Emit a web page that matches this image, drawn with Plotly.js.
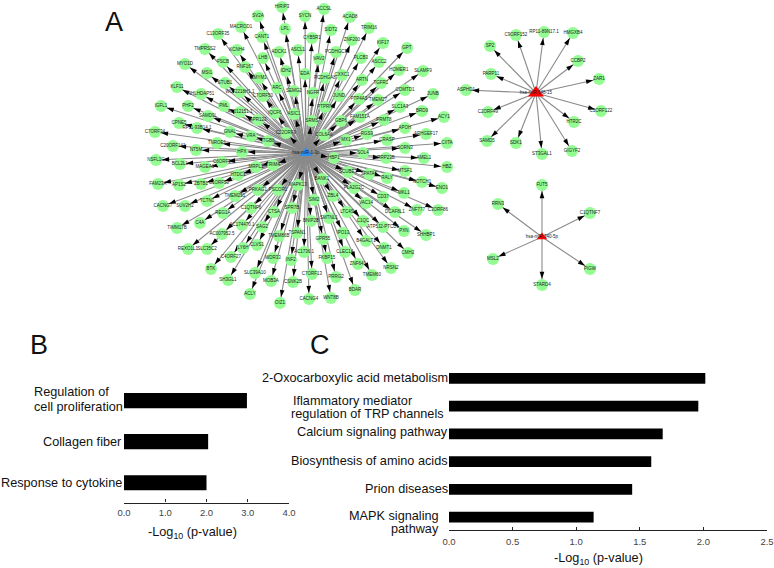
<!DOCTYPE html>
<html>
<head>
<meta charset="utf-8">
<script src="https://cdn.plot.ly/plotly-3.0.1.min.js"></script>
<style>html,body{margin:0;padding:0;background:#fff}#g{width:774px;height:568px}</style>
</head>
<body>
<div id="g"></div>
<script>
// Network A: target gene names and positions
const hubAName = "hsa-miR-1-3p";
const hubAPos = [306, 153];
const genesA = ["HIRIP3","SV2A","MACROD1","CANT1","LPL","C13ORF35","KCNH4","TMPRSS2","LHB","ASCL1","ADCK1","FSCB","RNF167","IDH2","MYO1D","MSI1","STUB1","ZMYM1","ARC","SEMG2","KLF11","NHLHDAP51","WI2-2218H1.1","C7ORF50","PML","PHF2","IGFL1","AC012151.1","IQCF6","ASIC1","SAMD9L","GPR123","CPNE5","RP11-93B14.1","GNAL","VRA","C7ORF34","C22ORF9","ITGB8","C20ORF141","TNROE1","NT5M","HPX",
"SYCN","ACCSL","ACAD8","SIDT2","TRIM16","CYB5R1","ZNF200","KIF17","GPT","PCDHGC3","VAV2","PLCB3","ASCC2","HOMER1","SLAMF9","EDA","CXXC1","PCDHGA8","ARTN","TGFR1","COMTD1","JUNB","NGFR","JUND","PTP4A3","TMEM27","PTPRN","SLC1A3","BRD9","ACY1","SRMS","GBP6","FAM151A","PRMT8","APOH","COL6A6","RGS9","MX1","CRASP","ARHGEF17","CIITA","SORN3",
"HBP1","SOL4","RRP23B","AMEL1","HBZ","MTSF1","SCUBE3","SPATA6","RALY","NOTCH1","ENO1","BANK1","PLA2G2C","MKL1","CD37","C3ORF86","ZNF777","SIM2","ZBL4","VAC14","DCAF8L1","LTC4S","SMTNL1","BNIP2B","C1QC","ATP5J2-PTCD1","PXN","SHHBP1","IPO13","GPR55","B4GALT1","DNMT1","CMH2","AC1736.1","CLEC1A","FKBP15","ZNF641","NRSN2","TMEM60","PRRG2","C7ORF13","BDAR","WNT8B","CACNG4",
"NSFL1C","BCL2L1","MAGEA1","C6ORF1","MRPL1","TRIM4","HTDC1","FAM23A","AP1S2","ZBTB1","C1ORF50","MAPK13","PRKAG1","PSCOR1","TMEM251","CACNG7","SUV2H2","TCTN1","C1QTNF6","CTSA","SPR7B","REG1A","TIMM17B","C4A","AC174470.1","SAG2","TMEM86B","TSPAN1","AC007952.5","REXO1L1","SLC35C2","LY6H","CLVS1","WDR33","INF2","C4ORF27","BTK","SH3GL1","SLC39A10","MOB3A","CSNK2B","ACLY","OIZ1"];
const genesAx = [282,258,241,262,285,218,237,205,263,298,279,223,245,286,185,207,225,259,277,294,177,201,240,263,224,188,161,240,275,294,208,258,179,197,230,251,155,286,268,173,217,196,242,
305,324,350,331,369,312,352,383,407,336,319,361,379,399,423,305,342,325,362,381,405,433,313,339,359,378,325,400,422,444,312,341,360,384,405,324,367,346,387,426,447,405,
334,363,386,424,447,405,348,369,387,422,442,322,354,404,383,438,417,314,333,366,395,347,329,311,363,383,404,426,343,323,366,384,408,304,345,327,358,391,372,336,312,355,331,309,
156,180,205,222,256,273,238,158,179,201,219,298,258,278,235,163,185,207,251,274,292,223,177,200,242,262,279,297,222,188,207,243,257,273,291,231,211,228,255,271,293,250,280];
const genesAy = [7,16,27,37,29,34,50,49,58,50,52,62,67,71,64,73,83,78,88,91,87,94,92,96,106,106,106,112,113,114,116,120,123,128,132,136,132,133,141,146,143,150,152,
16,9,17,30,28,38,40,43,48,52,59,58,62,70,71,74,75,78,80,83,90,94,93,96,99,100,107,107,111,117,121,121,117,120,128,135,134,140,140,134,143,148,
158,153,158,158,167,171,172,174,178,182,188,179,188,193,197,210,210,200,196,203,212,212,218,221,221,227,231,235,233,239,241,248,253,252,252,258,264,268,275,277,274,290,298,299,
160,164,167,162,167,165,175,184,185,184,183,185,190,190,196,206,206,201,208,212,208,213,228,223,225,227,236,233,234,249,249,248,245,258,260,257,269,280,273,281,282,294,303];

// Network A-2
const hubBName = "hsa-miR-548-15";
const hubBPos = [536, 93];
const genesB = ["C9ORF152","RP11-89N17.1","HMGXB4","SP2","CCBP2","ZAR1","PARP11","ASPHD1","C1ORF122","C2ORF49","HTR2C","SAMD5","SDK1","GIGYF2","ST3GAL1"];
const genesBx = [516,544,573,490,578,599,491,466,601,488,574,487,516,572,542];
const genesBy = [35,32,33,46,61,79,74,90,111,112,122,141,143,151,154];

// Network A-3
const hubCName = "hsa-miR-340-5p";
const hubCPos = [542, 237];
const genesC = ["FUT5","RRN3","C1QTNF7","MSL2","PIGW","STARD4"];
const genesCx = [542,498,590,493,590,542];
const genesCy = [185,204,213,259,269,285];

// Panel B
const catsB = ["Regulation of cell proliferation","Collagen fiber","Response to cytokine"];
const valsB = [2.98,2.04,2.00];
const ticksB = [0,1,2,3,4];
const tickTextB = ["0.0","1.0","2.0","3.0","4.0"];

// Panel C
const catsC = ["2-Oxocarboxylic acid metabolism","Iflammatory mediator regulation of TRP channels","Calcium signaling pathway","Biosynthesis of amino acids","Prion diseases","MAPK signaling pathway"];
const valsC = [2.015,1.96,1.68,1.59,1.44,1.137];
const ticksC = [0,0.5,1,1.5,2,2.5];
const tickTextC = ["0.0","0.5","1.0","1.5","2.0","2.5"];

const W = 774, H = 568;
const NODE = "#93FC93", EDGE = "#8a8a8a", SANS = "Liberation Sans, Arial, sans-serif";
const NODE_R = 6;

const traces = [];
function network(hub, names, xs, ys, hubName, hubColor, hubSize) {
  const ex = [], ey = [], ax = [], ay = [], ang = [];
  names.forEach((n, i) => {
    ex.push(hub[0], xs[i], null);
    ey.push(hub[1], ys[i], null);
    const dx = xs[i] - hub[0], dy = ys[i] - hub[1], d = Math.hypot(dx, dy) || 1;
    ax.push(xs[i] - dx / d * NODE_R);
    ay.push(ys[i] - dy / d * NODE_R);
    ang.push(Math.atan2(dx, -dy) * 180 / Math.PI);
  });
  traces.push({type:"scatter", mode:"lines", x:ex, y:ey, xaxis:"x", yaxis:"y", hoverinfo:"skip",
    line:{color:EDGE, width:1.1}, showlegend:false});
  traces.push({type:"scatter", mode:"markers", x:ax, y:ay, xaxis:"x", yaxis:"y", hoverinfo:"skip", showlegend:false,
    marker:{symbol:"arrow", size:7.5, angle:ang, color:"#000", line:{width:0}}});
  traces.push({type:"scatter", mode:"markers+text", x:xs, y:ys, text:names, xaxis:"x", yaxis:"y",
    textposition:"middle center", textfont:{family:SANS, size:4.5, color:"#222"}, showlegend:false,
    marker:{symbol:"circle", size:NODE_R * 2, color:NODE, line:{width:0}}});
  traces.push({type:"scatter", mode:"markers+text", x:[hub[0]], y:[hub[1]], text:[hubName], xaxis:"x", yaxis:"y",
    textposition:"middle center", textfont:{family:SANS, size:4.5, color:"#222"}, showlegend:false,
    marker:{symbol:"triangle-up", size:hubSize, color:hubColor, line:{width:0}}});
}
network(hubAPos, genesA, genesAx, genesAy, hubAName, "#1E90FF", 11);
network(hubBPos, genesB, genesBx, genesBy, hubBName, "#FF0000", 14);
network(hubCPos, genesC, genesCx, genesCy, hubCName, "#FF0000", 9);

traces.push({type:"bar", orientation:"h", x:valsB, y:catsB, xaxis:"x2", yaxis:"y2", width:0.37,
  marker:{color:"#000"}, showlegend:false});
traces.push({type:"bar", orientation:"h", x:valsC, y:catsC, xaxis:"x3", yaxis:"y3", width:0.385,
  marker:{color:"#000"}, showlegend:false});

function valueAxis(x0, x1, maxV, vals, text, anchor, standoff) {
  return {domain:[x0 / W, x1 / W], range:[0, maxV], anchor:anchor, tickmode:"array", tickvals:vals, ticktext:text,
    ticks:"inside", ticklen:3, tickwidth:1.2, tickcolor:"#222", showline:true, linecolor:"#222", linewidth:1.2,
    ticklabelstandoff:standoff, showgrid:false, zeroline:false, tickfont:{family:SANS, size:9.5, color:"#444"}};
}
function catAxis(top, bottom, r, cats, anchor) {
  return {domain:[1 - bottom / H, 1 - top / H], range:r, anchor:anchor, type:"category",
    categoryorder:"array", categoryarray:cats, showticklabels:false, ticks:"", showline:false, showgrid:false, zeroline:false};
}

function lbl(xref, yref, y, text, shift, xshift) {
  return {xref:xref, yref:yref, x:0, y:y, text:text, showarrow:false, xanchor:"right", yanchor:"middle",
    xshift:xshift, yshift:shift, font:{family:SANS, size:12.7, color:"#111"}};
}
function lblLeft(px, yref, y, text, shift) {
  return {xref:"paper", yref:yref, x:px / W, y:y, text:text, showarrow:false, xanchor:"left", yanchor:"middle",
    xshift:0, yshift:shift, font:{family:SANS, size:12.7, color:"#111"}};
}
function panel(t, x, y) {
  return {xref:"paper", yref:"paper", x:x / W, y:1 - y / H, text:t, showarrow:false, xanchor:"center", yanchor:"middle",
    font:{family:SANS, size:27, color:"#111"}};
}
function axisTitle(x, y) {
  return {xref:"paper", yref:"paper", x:x / W, y:1 - y / H, text:"-Log<sub>10</sub> (p-value)", showarrow:false,
    xanchor:"center", yanchor:"middle", font:{family:SANS, size:12.7, color:"#111"}};
}

const annotations = [
  panel("A", 114, 22), panel("B", 39, 345), panel("C", 320, 345),
  axisTitle(192, 533), axisTitle(598, 559),
  lblLeft(32, "y2", catsB[0], "Regulation of", 9),
  lblLeft(32, "y2", catsB[0], "cell proliferation", -6),
  lbl("x2", "y2", catsB[1], "Collagen fiber", -0.5, 0),
  lbl("x2", "y2", catsB[2], "Response to cytokine", -0.5, 0),
  lbl("x3", "y3", catsC[0], "2-Oxocarboxylic acid metabolism", 0, 1),
  lblLeft(291, "y3", catsC[1], "Iflammatory mediator", 5.5),
  lblLeft(289, "y3", catsC[1], "regulation of TRP channels", -7.5),
  lbl("x3", "y3", catsC[2], "Calcium signaling pathway", 2, 1),
  lbl("x3", "y3", catsC[3], "Biosynthesis of amino acids", 0.5, 1),
  lbl("x3", "y3", catsC[4], "Prion diseases", 0, 1),
  lbl("x3", "y3", catsC[5], "MAPK signaling", 1, -8),
  lbl("x3", "y3", catsC[5], "pathway", -12, -8)
];

const layout = {
  width:W, height:H, margin:{l:0, r:0, t:0, b:0}, paper_bgcolor:"#fff", plot_bgcolor:"rgba(0,0,0,0)",
  showlegend:false, hovermode:"closest", annotations:annotations,
  xaxis:{domain:[0,1], range:[0,W], visible:false, fixedrange:true},
  yaxis:{domain:[0,1], range:[H,0], visible:false, fixedrange:true},
  xaxis2:valueAxis(124, 289, 4, ticksB, tickTextB, "y2", 1),
  yaxis2:catAxis(380, 502.5, [2.48, -0.5], catsB, "x2"),
  xaxis3:valueAxis(449, 767, 2.5, ticksC, tickTextC, "y3", 2),
  yaxis3:catAxis(364.4, 530, [5.46, -0.5], catsC, "x3")
};
Plotly.newPlot("g", traces, layout, {displayModeBar:false, responsive:false});
</script>
</body>
</html>
